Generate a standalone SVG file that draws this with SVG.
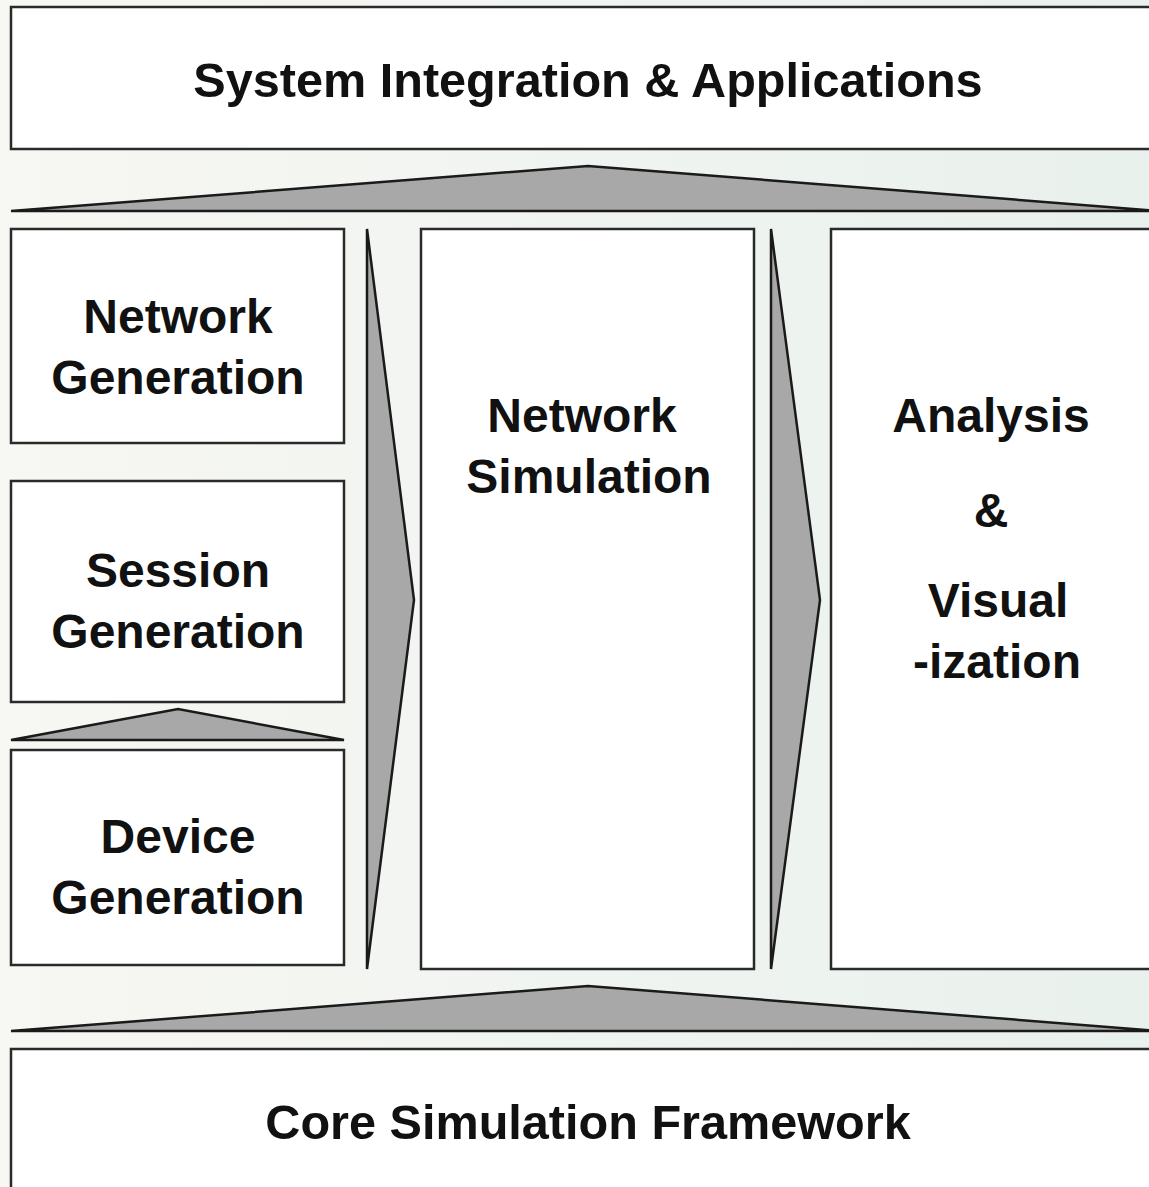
<svg xmlns="http://www.w3.org/2000/svg" width="1149" height="1187" viewBox="0 0 1149 1187">
  <defs>
    <linearGradient id="bg" x1="0" y1="0" x2="1" y2="0">
      <stop offset="0" stop-color="#f7f7f3"/>
      <stop offset="1" stop-color="#e9f1ed"/>
    </linearGradient>
    <style>
      .box { fill: #ffffff; stroke: #2a2a2a; stroke-width: 2.5; }
      .tri { fill: #a8a8a8; stroke: #1a1a1a; stroke-width: 2.5; stroke-linejoin: miter; }
      .lbl { font-family: "Liberation Sans", Arial, sans-serif; font-weight: bold; font-size: 48px; fill: #111111; text-anchor: middle; }
      .wide { font-size: 48.6px; }
    </style>
  </defs>
  <rect x="0" y="0" width="1149" height="1187" fill="url(#bg)"/>

  <g id="connectors">
    <polygon class="tri" points="11,211 588,166 1160,211"/>
    <polygon class="tri" points="11,740 178,709 344,740"/>
    <polygon class="tri" points="367,229 414,600 367,969"/>
    <polygon class="tri" points="771,229 820,600 771,969"/>
    <polygon class="tri" points="11,1031 588,986 1160,1031"/>
  </g>

  <g id="system-integration">
    <rect class="box" x="11" y="7" width="1150" height="142"/>
    <text class="lbl wide" x="588" y="97">System Integration &amp; Applications</text>
  </g>

  <g id="network-generation">
    <rect class="box" x="11" y="229" width="333" height="214"/>
    <text class="lbl" x="178" y="333">Network</text>
    <text class="lbl" x="178" y="394">Generation</text>
  </g>

  <g id="session-generation">
    <rect class="box" x="11" y="481" width="333" height="221"/>
    <text class="lbl" x="178" y="587">Session</text>
    <text class="lbl" x="178" y="648">Generation</text>
  </g>

  <g id="device-generation">
    <rect class="box" x="11" y="750" width="333" height="215"/>
    <text class="lbl" x="178" y="853">Device</text>
    <text class="lbl" x="178" y="914">Generation</text>
  </g>

  <g id="network-simulation">
    <rect class="box" x="421" y="229" width="333" height="740"/>
    <text class="lbl" x="582" y="432">Network</text>
    <text class="lbl" x="589" y="493">Simulation</text>
  </g>

  <g id="analysis-visualization">
    <rect class="box" x="831" y="229" width="330" height="740"/>
    <text class="lbl" x="991" y="432">Analysis</text>
    <text class="lbl" x="991" y="527">&amp;</text>
    <text class="lbl" x="998" y="617">Visual</text>
    <text class="lbl" x="997" y="678">-ization</text>
  </g>

  <g id="core-framework">
    <rect class="box" x="11" y="1049" width="1150" height="150"/>
    <text class="lbl wide" x="588" y="1139">Core Simulation Framework</text>
  </g>
</svg>
